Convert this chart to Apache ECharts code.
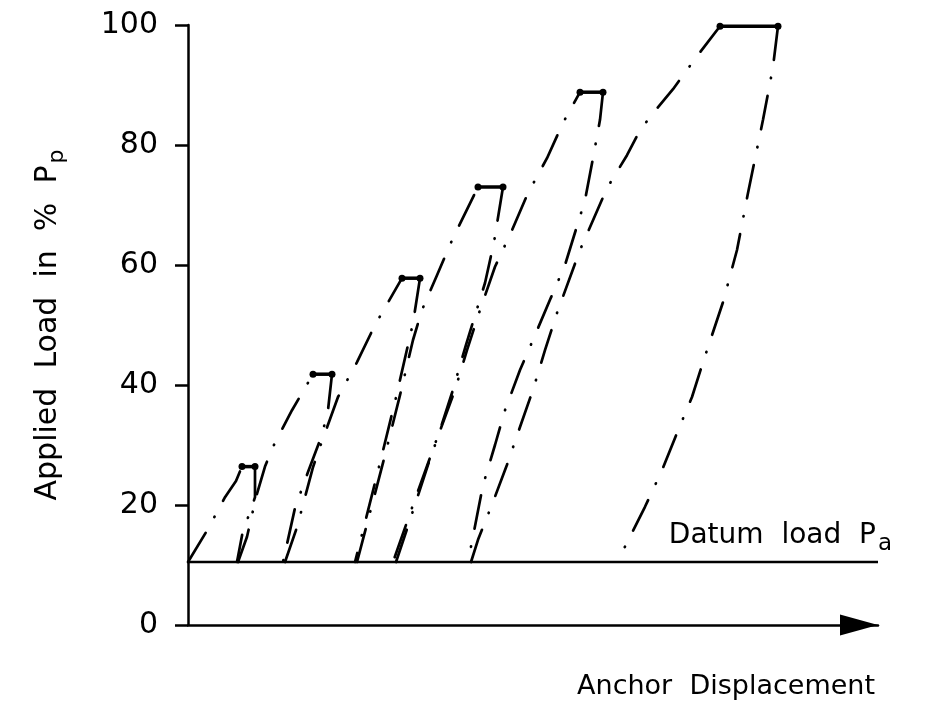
<!DOCTYPE html>
<html><head><meta charset="utf-8">
<script src="https://cdn.jsdelivr.net/npm/echarts@6/dist/echarts.min.js"></script>
<style>html,body{margin:0;padding:0;background:#fff}#c{width:930px;height:707px}</style>
</head><body><div id="c"></div>
<script>
// ---- data (x: anchor displacement, arbitrary units; y: applied load in % Pp) ----
const yTickValues = [0, 20, 40, 60, 80, 100];
const datumLoad = 10.5;
const xMax = 690;

const initialLoad = [[0,10.5],[20,16],[37,21.3],[48,24],[54,26.4]];
const plateau1 = [[54,26.4],[67,26.4]];
const unload1 = [[67,26.4],[67,21.3],[63,19.2],[55,15.8],[49,10.5]];
const reload1 = [[50,10.5],[59,14.7],[68,21.3],[77,26.4],[85,29.7],[104,35.8],[125,41.8]];
const plateau2 = [[125,41.8],[144,41.8]];
const unload2 = [[144,41.8],[140,35.8],[134,31.7],[120,25.5],[107,19.5],[95,10.5]];
const reload2 = [[97,10.5],[109,16.3],[125,26.3],[132,29.7],[150,38],[169,43.8],[187,50],[214,57.8]];
const plateau3 = [[214,57.8],[232,57.8]];
const unload3 = [[232,57.8],[225,50.3],[207,37.2],[189,25],[167,10.5]];
const reload3 = [[169,10.5],[184,20],[197,28.3],[212,38.3],[225,47.5],[234,52.5],[249,58.3],[265,64.5],[290,73]];
const plateau4 = [[290,73],[315,73]];
const unload4 = [[315,73],[306,63.8],[297,57],[278,46.7],[265,39.2],[252,32.5],[225,20],[205,10.5]];
const reload4 = [[208,10.5],[222,17.5],[240,26.7],[254,33.3],[267,39.2],[279,45.8],[292,52.5],[307,59.7],[324,65.8],[340,72],[359,77.8],[375,83.7],[392,88.8]];
const plateau5 = [[392,88.8],[415,88.8]];
const unload5 = [[415,88.8],[412,84.2],[405,77.8],[397,70.8],[377,60],[362,54.2],[347,48.3],[332,42.5],[317,35.8],[307,30],[295,23.3],[280,10.5]];
const reload5 = [[283,10.5],[290,14.2],[305,20.5],[319,26.7],[332,33],[345,39.2],[357,45.8],[369,52],[392,62.5],[419,72.8],[439,78.3],[449,81.5],[461,84.5],[485,89.3],[509,94.8],[532,99.8]];
const plateau6 = [[532,99.8],[590,99.8]];
const unload6 = [[590,99.8],[585,93],[575,84.2],[560,72],[549,62.5],[535,53.8],[516,44.3],[504,38],[489,32],[474,25.8],[457,19.7],[439,13.7],[429,10.5]];

const dashDotLines = [initialLoad, unload1, reload1, unload2, reload2, unload3, reload3, unload4, reload4, unload5, reload5, unload6];
const plateaus = [plateau1, plateau2, plateau3, plateau4, plateau5, plateau6];

const FONT = 'DejaVu Sans';
const chart = echarts.init(document.getElementById('c'), null, {renderer: 'canvas'});

const series = [];
dashDotLines.forEach(d => series.push({
  type: 'line', data: d, symbol: 'none', showSymbol: false, smooth: false,
  clip: false, silent: true, animation: false, z: 2,
  lineStyle: {color: '#000', width: 2.7, type: [34, 18, 0.5, 18], cap: 'round'}
}));
plateaus.forEach(d => series.push({
  type: 'line', data: d, symbol: 'circle', symbolSize: 7, showSymbol: true,
  clip: false, silent: true, animation: false, z: 3,
  itemStyle: {color: '#000'},
  lineStyle: {color: '#000', width: 3.5}
}));
series.push({
  type: 'line', clip: false, silent: true, animation: false, z: 2,
  symbol: 'circle', symbolSize: 0, showSymbol: true,
  lineStyle: {color: '#000', width: 2.5},
  itemStyle: {color: '#000'},
  data: [[0, datumLoad], {
    value: [xMax, datumLoad],
    label: {
      show: true, position: 'top', align: 'right', distance: 6, offset: [14, 0],
      formatter: 'Datum  load  P{sub|a}',
      color: '#000', fontFamily: FONT, fontSize: 28,
      rich: {sub: {fontFamily: FONT, fontSize: 23, color: '#000', padding: [18, 0, 0, 2]}}
    }
  }]
});

chart.setOption({
  animation: false,
  backgroundColor: '#fff',
  grid: {left: 188, right: 52, top: 25, bottom: 82, containLabel: false},
  xAxis: {
    type: 'value', min: 0, max: xMax,
    axisLine: {show: true, lineStyle: {color: '#000', width: 2.5},
      symbol: ['none', 'triangle'], symbolSize: [21, 38], symbolOffset: [0, -19]},
    axisTick: {show: false}, axisLabel: {show: false}, splitLine: {show: false},
    name: 'Anchor  Displacement', nameLocation: 'end', nameGap: -3,
    nameTextStyle: {color: '#000', fontFamily: FONT, fontSize: 27, align: 'right', verticalAlign: 'top', padding: [48, 0, 0, 0]}
  },
  yAxis: {
    type: 'value', min: 0, max: 100, interval: 20,
    axisLine: {show: true, lineStyle: {color: '#000', width: 2.5}},
    axisTick: {show: true, inside: false, length: 13, lineStyle: {color: '#000', width: 2.5}},
    axisLabel: {color: '#000', fontFamily: FONT, fontSize: 30, margin: 30,
      formatter: v => (yTickValues.indexOf(v) >= 0 ? String(v) : '')},
    splitLine: {show: false},
    name: 'Applied  Load  in  %  P{sub|p}', nameLocation: 'middle', nameRotate: 90, nameGap: 120,
    nameTextStyle: {color: '#000', fontFamily: FONT, fontSize: 30,
      rich: {sub: {fontFamily: FONT, fontSize: 22, color: '#000', padding: [18, 0, 0, 2]}}}
  },
  series: series
});
</script>
</body></html>
